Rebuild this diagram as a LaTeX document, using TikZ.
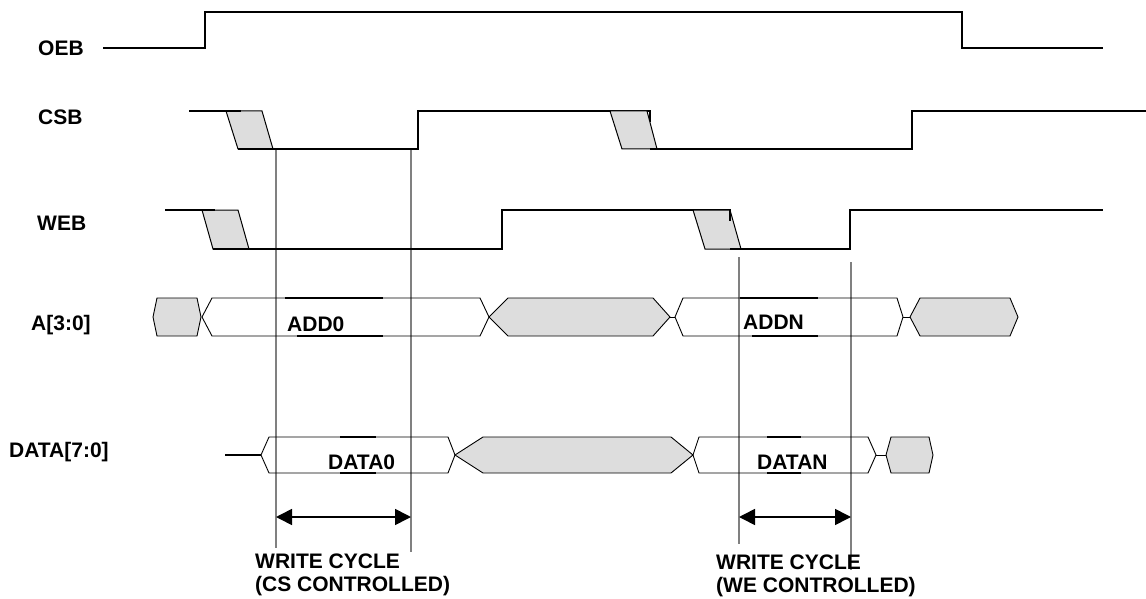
\documentclass[tikz,border=0pt]{standalone}
\usepackage{fontspec}
\setmainfont{Liberation Sans}
\usetikzlibrary{arrows.meta}
\definecolor{shade}{RGB}{221,221,221}
\definecolor{guidegray}{RGB}{128,128,128}
\begin{document}
\begin{tikzpicture}[x=1pt,y=-1pt,
  sig/.style={line width=1.6pt, line join=miter},
  trans/.style={draw, line width=1pt, fill=shade, line join=miter},
  bus/.style={draw, line width=0.9pt, line join=miter},
  busfill/.style={draw, line width=0.9pt, fill=shade, line join=miter},
  bold/.style={line width=2pt},
  guide/.style={draw=guidegray, line width=1.6pt},
  dim/.style={line width=1.6pt, {Triangle[length=16pt,width=16pt]}-{Triangle[length=16pt,width=16pt]}},
  lbl/.style={font=\fontsize{21}{24}\selectfont\bfseries, inner sep=0pt, text height=15pt, text depth=0pt, anchor=west}
]
\useasboundingbox (0,0) rectangle (1146,599);

% guide lines
\coordinate (csLt) at (276,149); \coordinate (csLb) at (276,548);
\coordinate (csRt) at (411,149); \coordinate (csRb) at (411,552);
\coordinate (weLt) at (739,257); \coordinate (weLb) at (739,544);
\coordinate (weRt) at (851,262); \coordinate (weRb) at (851,570);
\draw[guide] (csLt) -- (csLb);
\draw[guide] (csRt) -- (csRb);
\draw[guide] (weLt) -- (weLb);
\draw[guide] (weRt) -- (weRb);

% labels
\node[lbl] (oeb) at (38,48) {OEB};
\node[lbl] (csb) at (38,117) {CSB};
\node[lbl] (web) at (37,223) {WEB};
\node[lbl] (addr) at (31,323) {A[3:0]};
\node[lbl] (data) at (9,450) {DATA[7:0]};

% OEB
\draw[sig] (103,48) -- (205,48) -- (205,12) -- (962,12) -- (962,48) -- (1103,48);

% CSB
\draw[trans] (226,111) -- (262,111) -- (273,149) -- (238,149) -- cycle;
\draw[sig] (189,111) -- (241,111);
\draw[sig] (238,149) -- (418,149) -- (418,111) -- (650,111) -- (650,122);
\draw[trans] (610,111) -- (647,111) -- (657,149) -- (622,149) -- cycle;
\draw[sig] (650,111) -- (650,121);
\draw[sig] (650,149) -- (912,149) -- (912,111) -- (1146,111);

% WEB
\draw[trans] (202,210) -- (238,210) -- (249,249) -- (213,249) -- cycle;
\draw[sig] (165,210) -- (215,210);
\draw[sig] (213,249) -- (502,249) -- (502,210) -- (730,210) -- (730,221);
\draw[trans] (693,210) -- (730,210) -- (741,249) -- (705,249) -- cycle;
\draw[sig] (730,210) -- (730,221);
\draw[sig] (730,249) -- (850,249) -- (850,210) -- (1103,210);

% A[3:0] bus
\draw[busfill] (153,317) -- (157,298) -- (197,298) -- (201,317) -- (197,336) -- (157,336) -- cycle;
\draw[bus] (202,317) -- (212,298) -- (480,298) -- (489,317) -- (480,336) -- (212,336) -- cycle;
\draw[busfill] (489,317) -- (508,298) -- (653,298) -- (670,317) -- (653,336) -- (508,336) -- cycle;
\draw[bus] (670,317) -- (675,317);
\draw[bus] (675,317) -- (683,298) -- (897,298) -- (903,317) -- (897,336) -- (683,336) -- cycle;
\draw[bus] (903,317) -- (910,317);
\draw[busfill] (910,317) -- (920,298) -- (1010,298) -- (1018,317) -- (1010,336) -- (920,336) -- cycle;
\draw[bold] (285,298) -- (383,298);
\draw[bold] (297,336) -- (383,336);
\draw[bold] (740,298) -- (818,298);
\draw[bold] (752,336) -- (818,336);
\node[lbl] (add0) at (287,324) {ADD0};
\node[lbl] (addn) at (743,322) {ADDN};

% DATA bus
\draw[sig] (225,455) -- (261,455);
\draw[bus] (261,455) -- (269,437) -- (448,437) -- (455,455) -- (448,473) -- (269,473) -- cycle;
\draw[busfill] (455,455) -- (483,437) -- (671,437) -- (693,455) -- (671,473) -- (483,473) -- cycle;
\draw[bus] (693,455) -- (699,437) -- (868,437) -- (876,455) -- (868,473) -- (699,473) -- cycle;
\draw[bus] (876,455) -- (886,455);
\draw[busfill] (886,455) -- (891,437) -- (929,437) -- (933,455) -- (929,473) -- (891,473) -- cycle;
\draw[bold] (340,437) -- (376,437);
\draw[bold] (340,473) -- (376,473);
\draw[bold] (767,437) -- (801,437);
\draw[bold] (767,473) -- (801,473);
\node[lbl] (data0) at (328,462) {DATA0};
\node[lbl] (datan) at (757,462) {DATAN};

% write cycle arrows
\coordinate (csA) at (276,517); \coordinate (csB) at (411,517);
\coordinate (weA) at (739,517); \coordinate (weB) at (851,517);
\draw[dim] (csA) -- (csB);
\draw[dim] (weA) -- (weB);
\node[lbl] (wc1) at (255,561) {WRITE CYCLE};
\node[lbl] (wc1b) at (255,584) {(CS CONTROLLED)};
\node[lbl] (wc2) at (716,562) {WRITE CYCLE};
\node[lbl] (wc2b) at (716,585) {(WE CONTROLLED)};
\end{tikzpicture}
\end{document}
